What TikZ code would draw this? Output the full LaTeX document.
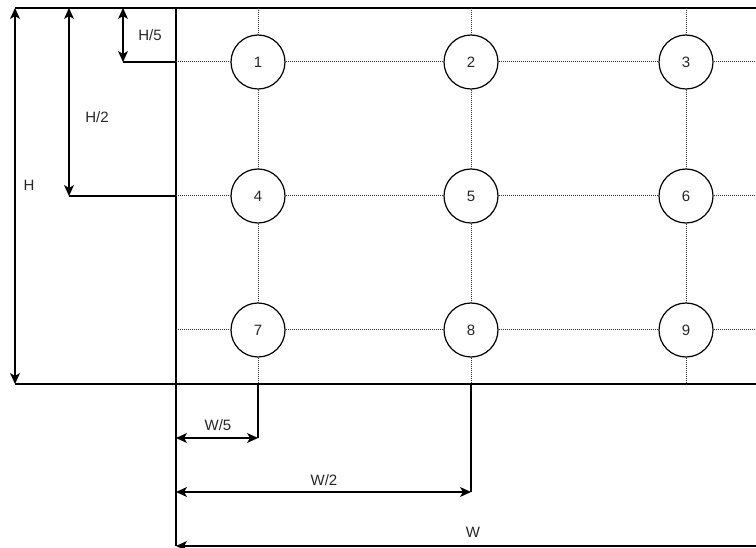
\documentclass[tikz,border=0pt]{standalone}
\usepackage{fontspec}
\setmainfont{Liberation Sans}
\usetikzlibrary{arrows.meta}
\begin{document}
\begin{tikzpicture}[x=1pt,y=-1pt,
  every node/.style={font=\fontsize{15}{17}\selectfont,text=black!85},
  spot/.style={circle,draw,line width=1.2pt,minimum size=54pt,inner sep=0pt},
  gridline/.style={dash pattern=on 1pt off 1pt,line width=1pt,black!80},
  solid line/.style={line width=1.3pt},
  tip/.tip={Stealth[length=11pt,width=10pt,inset=3pt]},
  dimline/.style={line width=1.3pt,tip-tip}]
\useasboundingbox (0,0) rectangle (756,548);
\clip (0,0) rectangle (756,548);
% the nine points
\foreach \n/\x/\y in {1/258/62,2/471/62,3/686/62,
                      4/258/196,5/471/196,6/686/196,
                      7/258/330,8/471/330,9/686/330}
  \node [spot] (c\n) at (\x,\y) {\n};
% border of the area
\coordinate (tl) at (176,8);
\coordinate (bl) at (176,384);
\coordinate (Htop) at (15,8);
\coordinate (Hbot) at (15,384);
\draw [solid line] (Htop) -- (756,8);
\draw [solid line] (Hbot) -- (756,384);
\draw [solid line] (tl) -- (176,546);
% dotted grid
\foreach \c/\t in {1/258,2/471,3/686}
  \draw [gridline] (\t,8) -- (c\c.north);
\foreach \c/\b in {7/258,8/471,9/686}
  \draw [gridline] (c\c.south) -- (\b,384);
\foreach \a/\b in {1/4,4/7,2/5,5/8,3/6,6/9}
  \draw [gridline] (c\a.south) -- (c\b.north);
\foreach \a/\b in {1/2,2/3,4/5,5/6,7/8,8/9}
  \draw [gridline] (c\a.east) -- (c\b.west);
\foreach \c/\y in {1/62,4/196,7/330}
  \draw [gridline] (176,\y) -- (c\c.west);
\foreach \c/\y in {3/62,6/196,9/330}
  \draw [gridline] (c\c.east) -- (756,\y);
% heights
\draw [dimline] (Htop) -- (Hbot);
\node (H) at (29,185) {H};
\coordinate (h2a) at (69,8);
\coordinate (h2b) at (69,196);
\draw [dimline] (h2a) -- (h2b);
\draw [solid line] (h2b) -- (176,196);
\node (H2) at (97,117) {H/2};
\coordinate (h5a) at (123,8);
\coordinate (h5b) at (123,62);
\draw [dimline] (h5a) -- (h5b);
\draw [solid line] (h5b) -- (176,62);
\node (H5) at (150,35) {H/5};
% widths
\coordinate (w5a) at (176,438);
\coordinate (w5b) at (258,438);
\draw [solid line] (258,384) -- (w5b);
\draw [dimline] (w5a) -- (w5b);
\node (W5) at (218,425) {W/5};
\coordinate (w2a) at (176,492);
\coordinate (w2b) at (471,492);
\draw [solid line] (471,384) -- (w2b);
\draw [dimline] (w2a) -- (w2b);
\node (W2) at (324,480) {W/2};
\coordinate (wa) at (176,546);
\coordinate (wb) at (760,546);
\draw [solid line,tip-] (wa) -- (wb);
\node (W) at (473,532) {W};
\end{tikzpicture}
\end{document}
